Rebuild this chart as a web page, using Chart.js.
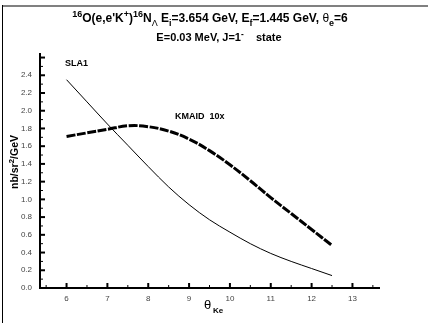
<!DOCTYPE html>
<html>
<head>
<meta charset="utf-8">
<script src="https://cdn.jsdelivr.net/npm/chart.js@4.4.0/dist/chart.umd.min.js"></script>
<style>
    body { margin: 0; background: #fff; }
    #wrap { width: 428px; height: 323px; position: relative; }
</style>
</head>
<body>
<div id="wrap"><canvas id="chart" width="428" height="323"></canvas></div>
<script>
/* data */
const thetaValues = [6, 6.5, 7, 7.5, 8, 8.5, 9, 9.5, 10, 10.5, 11, 11.5, 12, 12.5];
const sla1Values = [2.35, 2.10, 1.85, 1.61, 1.37, 1.14, 0.94, 0.77, 0.63, 0.50, 0.39, 0.30, 0.22, 0.14];
const kmaidValues = [1.71, 1.75, 1.79, 1.83, 1.82, 1.77, 1.68, 1.55, 1.39, 1.21, 1.02, 0.84, 0.66, 0.48];
const xTickValues = [6, 7, 8, 9, 10, 11, 12, 13];
const yTickValues = [0.0, 0.2, 0.4, 0.6, 0.8, 1.0, 1.2, 1.4, 1.6, 1.8, 2.0, 2.2, 2.4];

const FONT = "'Liberation Sans', Arial, sans-serif";

function toPoints(xs, ys) {
    return xs.map((x, i) => ({ x: x, y: ys[i] }));
}

/*
    draw text made of normal / sup / sub pieces
*/
function richWidth(ctx, parts, size) {
    let w = 0;
    parts.forEach(p => {
        const s = p[1] === "n" ? size : size * 0.75;
        ctx.font = (p[2] || "bold") + " " + s + "px " + FONT;
        w += ctx.measureText(p[0]).width;
    });
    return w;
}

function drawRich(ctx, parts, x, y, size) {
    let cx = x;
    parts.forEach(p => {
        const s = p[1] === "n" ? size : size * 0.75;
        ctx.font = (p[2] || "bold") + " " + s + "px " + FONT;
        let dy = 0;
        if (p[1] === "sup") dy = -size * 0.4;
        if (p[1] === "sub") dy = size * 0.3;
        ctx.fillText(p[0], cx, y + dy);
        cx += ctx.measureText(p[0]).width;
    });
}

const title1 = [
    ["16", "sup"], ["O(e,e'K", "n"], ["+", "sup"], [")", "n"], ["16", "sup"], ["N", "n"],
    ["\u039B", "sub", "normal"], [" E", "n"], ["i", "sub"], ["=3.654 GeV, E", "n"], ["f", "sub"],
    ["=1.445 GeV, ", "n"], ["\u03B8", "n", "normal"], ["e", "sub"], ["=6", "n"]
];
const title2 = [["E=0.03 MeV, J=1", "n"], ["-", "sup"], ["    state", "n"]];

const decorPlugin = {
    id: "decor",
    afterDraw(chart) {
        const ctx = chart.ctx;
        const xs = chart.scales.x;
        const ys = chart.scales.y;
        const area = chart.chartArea;
        ctx.save();

        // frame
        ctx.fillStyle = "#808080";
        ctx.fillRect(2, 5, 426, 2);
        ctx.fillStyle = "#000";
        ctx.fillRect(2, 5, 1, 318);

        // inward ticks
        ctx.strokeStyle = "#000";
        for (let v = 5.5; v <= 13.5; v += 0.5) {
            const px = xs.getPixelForValue(v);
            const major = Number.isInteger(v);
            ctx.lineWidth = major ? 2 : 1;
            ctx.beginPath();
            ctx.moveTo(px, area.bottom);
            ctx.lineTo(px, area.bottom - (major ? 5 : 3));
            ctx.stroke();
        }
        for (let i = 0; i <= 26; i++) {
            const v = i / 10;
            const py = ys.getPixelForValue(v);
            const major = i % 2 === 0;
            ctx.lineWidth = major ? 2 : 1;
            ctx.beginPath();
            ctx.moveTo(area.left, py);
            ctx.lineTo(area.left + (major ? 5 : 3), py);
            ctx.stroke();
        }

        // titles
        ctx.fillStyle = "#000";
        ctx.textBaseline = "alphabetic";
        ctx.textAlign = "left";
        let w = richWidth(ctx, title1, 12);
        drawRich(ctx, title1, 210 - w / 2, 22, 12);
        w = richWidth(ctx, title2, 11);
        drawRich(ctx, title2, 219 - w / 2, 41, 11);

        // series labels
        ctx.font = "bold 9px " + FONT;
        ctx.fillText("SLA1", 65, 66);
        ctx.fillText("KMAID  10x", 175, 119);

        // axis titles
        ctx.font = "normal 13px " + FONT;
        ctx.fillText("\u03B8", 204, 309);
        ctx.font = "bold 8px " + FONT;
        ctx.fillText("Ke", 213, 313);

        ctx.save();
        ctx.translate(18, 162);
        ctx.rotate(-Math.PI / 2);
        const yt = [["nb/sr", "n"], ["2", "sup"], ["/GeV", "n"]];
        w = richWidth(ctx, yt, 10.5);
        drawRich(ctx, yt, -w / 2, 0, 10.5);
        ctx.restore();

        ctx.restore();
    }
};

const ctx = document.getElementById("chart").getContext("2d");

const chart = new Chart(ctx, {
    type: "line",
    data: {
        datasets: [
            {
                label: "SLA1",
                data: toPoints(thetaValues, sla1Values),
                borderColor: "#000",
                borderWidth: 1,
                pointRadius: 0,
                cubicInterpolationMode: "monotone",
                fill: false
            },
            {
                label: "KMAID 10x",
                data: toPoints(thetaValues, kmaidValues),
                borderColor: "#000",
                borderWidth: 3,
                borderDash: [9, 1.5],
                pointRadius: 0,
                tension: 0.4,
                fill: false
            }
        ]
    },
    options: {
        responsive: false,
        animation: false,
        layout: { padding: { left: 0, right: 49, top: 54, bottom: 0 } },
        plugins: {
            legend: { display: false },
            tooltip: { enabled: false }
        },
        scales: {
            x: {
                type: "linear",
                min: 5.35,
                max: 13.65,
                grid: { display: false, drawTicks: false },
                border: { display: true, color: "#000", width: 2 },
                afterFit: scale => { scale.height = 35; },
                afterBuildTicks: scale => {
                    scale.ticks = xTickValues.map(v => ({ value: v }));
                },
                ticks: {
                    padding: 6,
                    color: "#444",
                    font: { size: 8, family: FONT },
                    maxRotation: 0
                }
            },
            y: {
                type: "linear",
                min: 0,
                max: 2.64,
                grid: { display: false, drawTicks: false },
                border: { display: true, color: "#000", width: 2 },
                afterFit: scale => { scale.width = 40; },
                afterBuildTicks: scale => {
                    scale.ticks = yTickValues.map(v => ({ value: v }));
                },
                ticks: {
                    padding: 8,
                    color: "#444",
                    font: { size: 8, family: FONT },
                    callback: v => v.toFixed(1)
                }
            }
        }
    },
    plugins: [decorPlugin]
});
</script>
</body>
</html>
